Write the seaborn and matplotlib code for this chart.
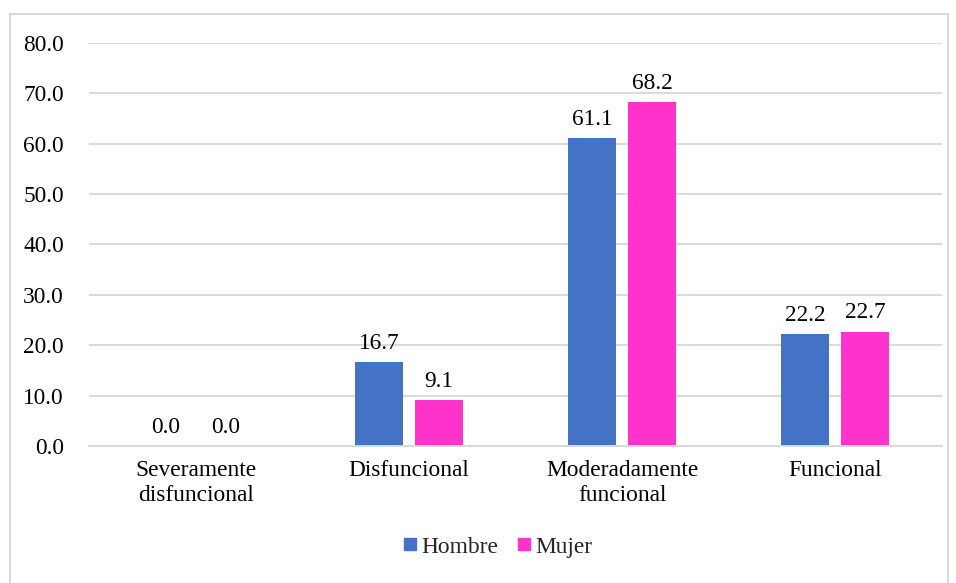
import matplotlib
matplotlib.use("Agg")
import matplotlib.pyplot as plt
from matplotlib.patches import Rectangle
from matplotlib.lines import Line2D
import seaborn as sns
import pandas as pd

categories = ["Severamente\ndisfuncional", "Disfuncional", "Moderadamente\nfuncional", "Funcional"]
hombre = [0.0, 16.7, 61.1, 22.2]
mujer = [0.0, 9.1, 68.2, 22.7]
series = ["Hombre", "Mujer"]
colors = ["#4472C4", "#FF33CC"]
yticks = [0, 10, 20, 30, 40, 50, 60, 70, 80]

df = pd.DataFrame({
    "categoria": categories * 2,
    "valor": hombre + mujer,
    "sexo": [series[0]] * len(categories) + [series[1]] * len(categories),
})

sns.set_theme(style="white")
plt.rcParams["font.family"] = ["Liberation Serif", "DejaVu Serif"]
FS = 16.8

fig = plt.figure(figsize=(9.56, 5.83), dpi=100)
ax = fig.add_axes([89 / 956, 1 - 446 / 583, (942 - 89) / 956, (446 - 43) / 583])

sns.barplot(data=df, x="categoria", y="valor", hue="sexo", palette=colors,
            width=0.564, gap=0.2, order=categories, hue_order=series,
            ax=ax, legend=False, errorbar=None, saturation=1, linewidth=0)

for cont in ax.containers:
    labels = [f"{b.get_height():.1f}" for b in cont]
    ax.bar_label(cont, labels=labels, padding=6, fontsize=FS, color="#000000")

ax.set_xlim(-0.5, 3.5)
ax.set_ylim(0, 80)
ax.set_yticks(yticks)
ax.set_yticklabels([f"{v:.1f}" for v in yticks])
ax.set_xlabel("")
ax.set_ylabel("")
ax.grid(axis="y", color="#D9D9D9", linewidth=1.4)
ax.set_axisbelow(True)
for s in ["top", "right", "left"]:
    ax.spines[s].set_visible(False)
ax.spines["bottom"].set_color("#D9D9D9")
ax.spines["bottom"].set_linewidth(1.4)
ax.tick_params(axis="y", length=0, pad=18, labelsize=FS, colors="#000000")
ax.tick_params(axis="x", length=0, pad=10, labelsize=FS, colors="#000000")
for t in ax.get_xticklabels():
    t.set_linespacing(1.25)

handles = [Line2D([0], [0], marker="s", linestyle="none", markersize=8.5,
                  markerfacecolor=c, markeredgecolor=c) for c in colors]
fig.legend(handles, series, loc="center", bbox_to_anchor=(0.518, 0.062),
           ncol=2, frameon=False, fontsize=FS, handletextpad=0.0,
           columnspacing=0.6, handlelength=1.0)

fig.patches.append(Rectangle((10 / 956, -0.02), (948 - 10) / 956, 1 - 14 / 583 + 0.02,
                             transform=fig.transFigure, fill=False,
                             edgecolor="#D9D9D9", linewidth=1.5))

fig.savefig("out.png", dpi=100, facecolor="white")
